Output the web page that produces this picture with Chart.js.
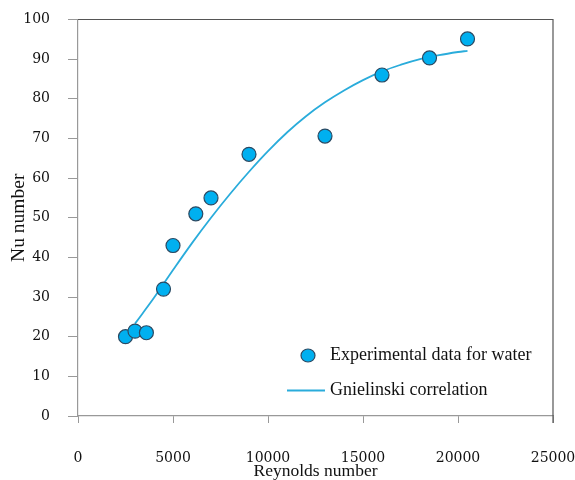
<!DOCTYPE html>
<html>
<head>
<meta charset="utf-8">
<script src="https://cdn.jsdelivr.net/npm/chart.js"></script>
<style>
    html, body { margin: 0; padding: 0; background: #fff; }
    #wrap { width: 575px; height: 480px; }
</style>
</head>
<body>
<div id="wrap"><canvas id="nuChart" width="575" height="480"></canvas></div>
<script>
// experimental points
const expRe = [2500, 3000, 3600, 4500, 5000, 6200, 7000, 9000, 13000, 16000, 18500, 20500];
const expNu = [20, 21.4, 21, 32, 43, 51, 55, 66, 70.6, 86, 90.3, 95.1];

// Gnielinski correlation curve, sampled along the drawn line
const corrRe = [3000, 4000, 5000, 6000, 7000, 8000, 9000, 10000, 11000, 12000, 13000, 14000, 15000, 16000, 17000, 18000, 19000, 20000, 20500];
const corrNu = [23.3, 29.8, 36.8, 43.6, 50, 56, 61.6, 66.8, 71.5, 75.6, 79.1, 82.1, 84.7, 86.9, 88.6, 90, 91, 91.8, 92.1];

const xTicks = [0, 5000, 10000, 15000, 20000, 25000];
const yTicks = [0, 10, 20, 30, 40, 50, 60, 70, 80, 90, 100];

const seriesNames = ['Experimental data for water', 'Gnielinski correlation'];

const pointFill = '#00B0F0';
const pointEdge = '#2B4A63';
const lineColor = '#2AACDB';

const tickFont = { family: 'DejaVu Serif', size: 14 };
const xTitleFont = { family: 'Liberation Serif', size: 17.5 };
const yTitleFont = { family: 'Liberation Serif', size: 19.5 };
const legendFont = { family: 'Liberation Serif', size: 18 };

const toXY = (xs, ys) => xs.map((x, i) => ({ x, y: ys[i] }));

// frame on top and right, plus a small legend inside the plot
const framePlugin = {
    id: 'frame',
    afterDraw(chart) {
        const { ctx, chartArea: a } = chart;
        ctx.save();
        ctx.strokeStyle = '#555';
        ctx.lineWidth = 1.2;
        ctx.beginPath();
        ctx.moveTo(a.left, a.top);
        ctx.lineTo(a.right, a.top);
        ctx.lineTo(a.right, a.bottom + 7);
        ctx.stroke();

        // legend
        const lx = a.left + 209;
        const ly1 = a.top + 336;
        const ly2 = a.top + 371;
        ctx.fillStyle = pointFill;
        ctx.strokeStyle = pointEdge;
        ctx.lineWidth = 1.2;
        ctx.beginPath();
        ctx.ellipse(lx + 21, ly1, 7, 6.5, 0, 0, Math.PI * 2);
        ctx.fill();
        ctx.stroke();

        ctx.strokeStyle = lineColor;
        ctx.lineWidth = 1.8;
        ctx.beginPath();
        ctx.moveTo(lx, ly2);
        ctx.lineTo(lx + 38, ly2);
        ctx.stroke();

        ctx.fillStyle = '#111';
        ctx.font = `${legendFont.size}px ${legendFont.family}`;
        ctx.textBaseline = 'middle';
        ctx.fillText(seriesNames[0], lx + 43, ly1);
        ctx.fillText(seriesNames[1], lx + 43, ly2);
        ctx.restore();
    },
};

const ctx = document.getElementById('nuChart').getContext('2d');

new Chart(ctx, {
    type: 'scatter',
    data: {
        datasets: [
            {
                label: seriesNames[0],
                data: toXY(expRe, expNu),
                pointStyle: 'circle',
                pointRadius: 7,
                pointBackgroundColor: pointFill,
                pointBorderColor: pointEdge,
                pointBorderWidth: 1.2,
                showLine: false,
                order: 0,
            },
            {
                label: seriesNames[1],
                data: toXY(corrRe, corrNu),
                showLine: true,
                borderColor: lineColor,
                borderWidth: 1.8,
                pointRadius: 0,
                tension: 0.4,
                order: 1,
            },
        ],
    },
    options: {
        responsive: false,
        animation: false,
        layout: {
            padding: { top: 19.5, right: 22, left: 0, bottom: 0 },
        },
        plugins: {
            legend: { display: false },
            tooltip: { enabled: false },
        },
        scales: {
            x: {
                type: 'linear',
                min: 0,
                max: 25000,
                afterFit(scale) {
                    scale.height = 64;
                    // let the layout padding decide the side gaps
                    scale.paddingLeft = 0;
                    scale.paddingRight = 0;
                },
                afterBuildTicks(scale) {
                    scale.ticks = xTicks.map((v) => ({ value: v }));
                },
                grid: {
                    drawOnChartArea: false,
                    drawTicks: true,
                    tickLength: 7,
                    color: '#999',
                },
                border: { color: '#999', width: 1.2 },
                ticks: {
                    font: tickFont,
                    color: '#111',
                    padding: 27,
                    maxRotation: 0,
                    callback: (v) => String(v),
                },
                title: {
                    display: true,
                    text: 'Reynolds number',
                    font: xTitleFont,
                    color: '#111',
                    padding: { top: 0, bottom: -2 },
                },
            },
            y: {
                type: 'linear',
                min: 0,
                max: 100,
                afterFit(scale) {
                    scale.width = 78;
                    scale.paddingTop = 0;
                    scale.paddingBottom = 0;
                },
                afterBuildTicks(scale) {
                    scale.ticks = yTicks.map((v) => ({ value: v }));
                },
                grid: {
                    drawOnChartArea: false,
                    drawTicks: true,
                    tickLength: 10,
                    color: '#999',
                },
                border: { color: '#999', width: 1.2 },
                ticks: {
                    font: tickFont,
                    color: '#111',
                    padding: 18,
                    callback: (v) => String(v),
                },
                title: {
                    display: true,
                    text: 'Nu number',
                    font: yTitleFont,
                    color: '#111',
                    padding: { top: 7, bottom: 0 },
                },
            },
        },
    },
    plugins: [framePlugin],
});
</script>
</body>
</html>
